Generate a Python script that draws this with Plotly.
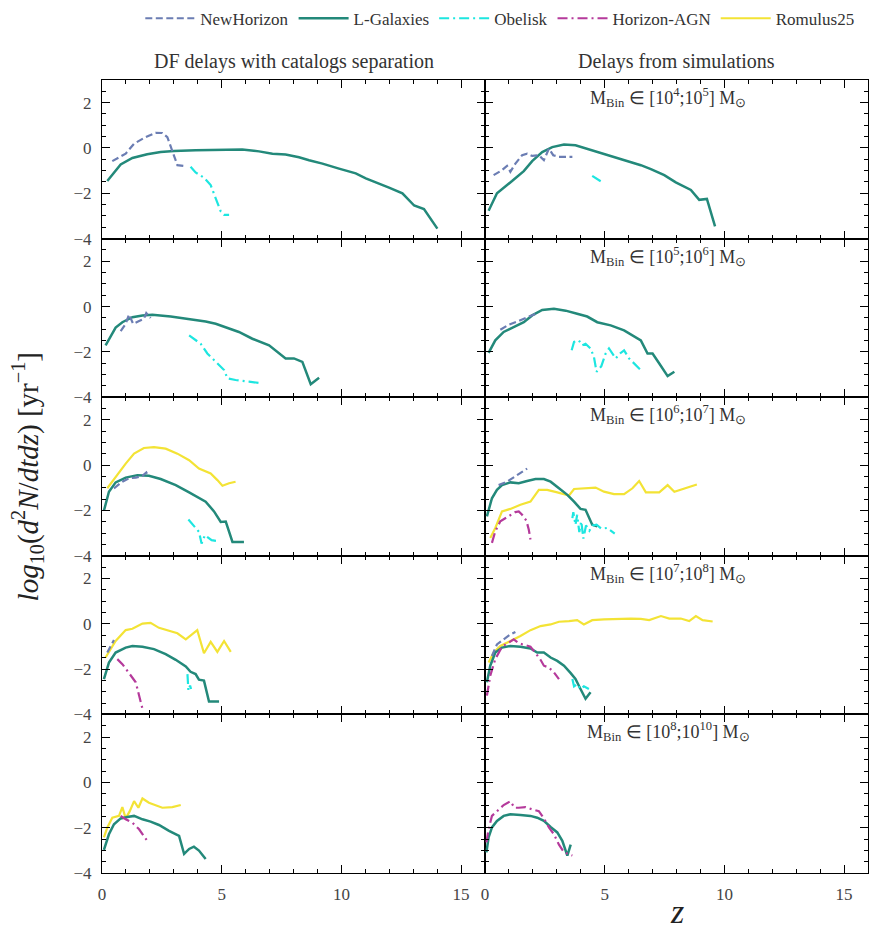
import plotly.graph_objects as go
from plotly.subplots import make_subplots

# ---------------- data (z, log10 rate) ----------------
# Row 1: M_Bin in [1e4;1e5]
r1_df_lgal_z = [0.22, 0.78, 1.27, 1.89, 2.45, 3.01, 3.91, 5.03, 5.86, 6.56, 7.12, 7.67, 8.23, 8.65, 9.21, 9.90, 10.60, 11.02, 11.57, 11.99, 12.55, 13.04, 13.45, 14.01]
r1_df_lgal_v = [-1.46, -0.73, -0.44, -0.28, -0.18, -0.13, -0.10, -0.07, -0.07, -0.15, -0.25, -0.29, -0.41, -0.54, -0.69, -0.91, -1.12, -1.34, -1.56, -1.75, -2.00, -2.54, -2.70, -3.56]
r1_df_nh_z = [0.43, 0.99, 1.34, 1.82, 2.24, 2.52, 2.73, 2.94, 3.15, 3.50]
r1_df_nh_v = [-0.58, -0.25, 0.19, 0.48, 0.67, 0.66, 0.48, -0.10, -0.76, -0.80]
r1_df_ob_z = [3.70, 3.91, 4.26, 4.54, 4.75, 4.96, 5.10, 5.31]
r1_df_ob_v = [-0.83, -1.08, -1.31, -1.64, -2.22, -2.80, -2.95, -2.95]

r1_sim_lgal_z = [0.15, 0.50, 1.13, 1.62, 1.97, 2.39, 2.81, 3.30, 3.78, 4.48, 5.25, 5.95, 6.51, 6.93, 7.49, 7.97, 8.60, 8.95, 9.27, 9.61]
r1_sim_lgal_v = [-2.77, -2.00, -1.46, -1.02, -0.58, -0.18, 0.04, 0.15, 0.12, -0.10, -0.35, -0.58, -0.76, -0.93, -1.20, -1.52, -1.85, -2.29, -2.25, -3.46]
r1_sim_nh_z = [0.36, 0.71, 0.92, 1.06, 1.27, 1.55, 1.76, 1.97, 2.25, 2.46, 2.67, 2.85, 3.09, 3.65]
r1_sim_nh_v = [-1.20, -0.98, -0.79, -1.05, -0.69, -0.32, -0.25, -0.35, -0.32, -0.54, -0.03, -0.32, -0.39, -0.39]
r1_sim_ob_z = [4.48, 4.72, 4.97]
r1_sim_ob_v = [-1.23, -1.39, -1.56]

# Row 2: M_Bin in [1e5;1e6]
r2_df_lgal_z = [0.15, 0.57, 0.85, 1.27, 1.69, 2.10, 2.87, 3.64, 4.33, 4.75, 5.17, 5.72, 6.28, 6.98, 7.67, 8.02, 8.37, 8.72, 9.07]
r2_df_lgal_v = [-1.71, -0.93, -0.69, -0.47, -0.39, -0.36, -0.44, -0.54, -0.66, -0.76, -0.93, -1.12, -1.42, -1.71, -2.29, -2.29, -2.44, -3.43, -3.14]
r2_df_nh_z = [0.78, 0.99, 1.13, 1.30, 1.55, 1.75, 1.85, 2.03]
r2_df_nh_v = [-1.08, -0.76, -0.35, -0.76, -0.64, -0.54, -0.29, -0.50]
r2_df_ob_z = [3.64, 4.12, 4.40, 4.82, 5.10, 5.24, 5.58, 6.14, 6.70]
r2_df_ob_v = [-1.27, -1.64, -2.07, -2.51, -2.80, -3.17, -3.24, -3.31, -3.39]

r2_sim_lgal_z = [0.15, 0.43, 0.78, 1.20, 1.62, 1.97, 2.39, 2.88, 3.37, 3.85, 4.27, 4.69, 5.25, 5.81, 6.16, 6.51, 6.79, 7.00, 7.28, 7.63, 7.91]
r2_sim_lgal_v = [-2.04, -1.49, -1.12, -0.91, -0.69, -0.39, -0.15, -0.10, -0.18, -0.32, -0.44, -0.69, -0.83, -1.05, -1.27, -1.49, -2.07, -2.07, -2.51, -3.07, -2.88]
r2_sim_nh_z = [0.64, 0.99, 1.34, 1.76, 2.18]
r2_sim_nh_v = [-1.02, -0.80, -0.66, -0.47, -0.29]
r2_sim_ob_z = [3.62, 3.72, 3.92, 4.06, 4.20, 4.41, 4.55, 4.66, 4.86, 5.04, 5.18, 5.32, 5.46, 5.64, 5.81, 6.02, 6.23, 6.58]
r2_sim_ob_v = [-1.93, -1.56, -1.49, -1.71, -1.64, -1.85, -2.22, -2.88, -2.63, -2.07, -1.85, -2.07, -2.29, -2.07, -1.93, -2.29, -2.51, -2.88]

# Row 3: M_Bin in [1e6;1e7]
r3_df_rom_z = [0.22, 0.57, 0.99, 1.34, 1.75, 2.17, 2.66, 3.15, 3.64, 4.05, 4.54, 4.82, 5.03, 5.31, 5.58]
r3_df_rom_v = [-1.02, -0.51, 0.07, 0.51, 0.76, 0.80, 0.73, 0.51, 0.22, -0.15, -0.37, -0.66, -0.91, -0.80, -0.73]
r3_df_lgal_z = [0.08, 0.29, 0.57, 0.99, 1.48, 1.96, 2.45, 3.08, 3.64, 4.33, 4.68, 4.96, 5.17, 5.45, 5.93]
r3_df_lgal_v = [-2.01, -1.17, -0.76, -0.55, -0.44, -0.47, -0.61, -0.88, -1.20, -1.61, -2.04, -2.51, -2.49, -3.39, -3.39]
r3_df_nh_z = [0.50, 0.85, 1.13, 1.41, 1.69, 1.85, 1.94]
r3_df_nh_v = [-1.02, -0.73, -0.58, -0.55, -0.47, -0.32, -0.51]
r3_df_ob_z = [3.61, 3.84, 4.05, 4.16, 4.30, 4.58, 4.82]
r3_df_ob_v = [-2.40, -2.68, -2.94, -3.46, -3.09, -3.31, -3.35]

r3_sim_lgal_z = [0.08, 0.29, 0.50, 0.71, 1.06, 1.41, 1.76, 2.11, 2.46, 2.74, 3.09, 3.44, 3.72, 3.99, 4.20, 4.48, 4.69]
r3_sim_lgal_v = [-2.26, -1.46, -1.09, -0.88, -0.76, -0.80, -0.70, -0.61, -0.61, -0.73, -1.02, -1.31, -1.61, -1.93, -1.97, -2.63, -2.70]
r3_sim_nh_z = [0.57, 0.92, 1.34, 1.76]
r3_sim_nh_v = [-0.88, -0.73, -0.44, -0.15]
r3_sim_rom_z = [0.22, 0.43, 0.71, 1.06, 1.48, 1.90, 2.25, 2.60, 3.02, 3.51, 3.72, 4.13, 4.62, 4.97, 5.39, 5.81, 6.16, 6.44, 6.72, 7.28, 7.63, 7.91, 8.39, 8.85]
r3_sim_rom_v = [-3.21, -2.77, -2.04, -1.93, -1.75, -1.61, -1.09, -1.09, -1.20, -1.34, -1.05, -1.02, -0.99, -1.17, -1.28, -1.28, -1.02, -0.70, -1.20, -1.20, -0.88, -1.17, -1.02, -0.85]
r3_sim_hagn_z = [0.29, 0.43, 0.64, 0.85, 1.06, 1.27, 1.41, 1.55, 1.73, 1.83, 1.90]
r3_sim_hagn_v = [-3.43, -2.92, -2.48, -2.34, -2.22, -2.07, -2.04, -2.19, -2.45, -2.85, -3.28]
r3_sim_ob_z = [3.65, 3.69, 3.78, 3.85, 3.94, 4.02, 4.11, 4.22, 4.36, 4.50, 4.66, 4.86, 5.11, 5.42]
r3_sim_ob_v = [-2.34, -2.07, -2.63, -2.19, -2.95, -2.48, -3.24, -2.66, -2.89, -2.66, -2.63, -2.80, -2.77, -3.02]

# Row 4: M_Bin in [1e7;1e8]
r4_df_rom_z = [0.15, 0.57, 0.99, 1.27, 1.69, 2.03, 2.38, 2.80, 3.15, 3.50, 3.98, 4.26, 4.54, 4.82, 5.10, 5.38]
r4_df_rom_v = [-1.49, -0.76, -0.28, -0.22, 0.01, 0.04, -0.18, -0.32, -0.42, -0.69, -0.28, -1.30, -0.80, -1.24, -0.76, -1.24]
r4_df_lgal_z = [0.08, 0.29, 0.57, 0.99, 1.27, 1.69, 2.17, 2.66, 3.08, 3.50, 3.70, 3.91, 4.05, 4.26, 4.47, 4.89]
r4_df_lgal_v = [-2.44, -1.71, -1.27, -1.05, -0.98, -1.01, -1.12, -1.34, -1.59, -1.88, -2.12, -2.22, -2.47, -2.51, -3.43, -3.43]
r4_df_nh_z = [0.22, 0.36, 0.50]
r4_df_nh_v = [-1.27, -0.98, -0.72]
r4_df_hagn_z = [0.64, 0.85, 1.13, 1.41, 1.55, 1.69]
r4_df_hagn_v = [-1.56, -1.78, -2.18, -2.58, -3.17, -3.75]
r4_df_ob_z = [3.57, 3.61, 3.68, 3.72]
r4_df_ob_v = [-2.22, -2.95, -2.73, -2.88]

r4_sim_rom_z = [0.15, 0.36, 0.64, 1.06, 1.48, 1.90, 2.32, 2.74, 3.09, 3.51, 3.85, 4.13, 4.48, 4.97, 5.53, 6.09, 6.51, 6.86, 7.35, 7.70, 8.18, 8.53, 8.81, 9.09, 9.51]
r4_sim_rom_v = [-1.71, -1.27, -0.98, -0.76, -0.54, -0.28, -0.10, -0.03, 0.09, 0.12, 0.16, -0.03, 0.16, 0.19, 0.22, 0.23, 0.22, 0.16, 0.34, 0.23, 0.23, 0.12, 0.34, 0.16, 0.10]
r4_sim_lgal_z = [0.08, 0.22, 0.43, 0.71, 1.06, 1.48, 1.90, 2.18, 2.46, 2.74, 3.02, 3.30, 3.58, 3.78, 3.99, 4.20, 4.41]
r4_sim_lgal_v = [-2.58, -1.85, -1.27, -1.05, -0.98, -1.01, -1.09, -1.27, -1.27, -1.49, -1.64, -1.85, -2.18, -2.44, -2.88, -3.31, -3.02]
r4_sim_nh_z = [0.29, 0.50, 0.78, 1.06, 1.27]
r4_sim_nh_v = [-1.42, -0.91, -0.69, -0.47, -0.36]
r4_sim_hagn_z = [0.08, 0.22, 0.43, 0.71, 0.99, 1.20, 1.41, 1.62, 1.90, 2.18, 2.32, 2.46, 2.67, 2.88, 3.09]
r4_sim_hagn_v = [-3.17, -2.29, -1.56, -1.01, -0.83, -0.69, -0.86, -0.91, -1.01, -1.39, -1.59, -1.85, -1.93, -2.15, -2.44]
r4_sim_ob_z = [3.65, 3.72, 3.85, 3.99, 4.13, 4.34]
r4_sim_ob_v = [-2.44, -2.76, -2.66, -2.88, -2.76, -2.88]

# Row 5: M_Bin in [1e8;1e10]
r5_df_rom_z = [0.08, 0.22, 0.43, 0.71, 0.85, 0.99, 1.16, 1.34, 1.52, 1.69, 1.96, 2.52, 2.94, 3.29]
r5_df_rom_v = [-2.43, -2.00, -1.56, -1.48, -1.09, -1.59, -1.27, -0.83, -1.12, -0.71, -0.90, -1.12, -1.09, -1.00]
r5_df_lgal_z = [0.08, 0.29, 0.50, 0.78, 1.06, 1.34, 1.69, 2.03, 2.38, 2.80, 3.22, 3.43, 3.64, 3.84, 4.05, 4.33]
r5_df_lgal_v = [-2.98, -2.29, -1.85, -1.59, -1.53, -1.48, -1.63, -1.73, -1.88, -2.14, -2.36, -3.16, -2.94, -2.84, -3.01, -3.38]
r5_df_hagn_z = [0.78, 0.99, 1.27, 1.55, 1.89]
r5_df_hagn_v = [-1.48, -1.63, -1.78, -2.07, -2.58]

r5_sim_lgal_z = [0.06, 0.15, 0.29, 0.50, 0.78, 1.06, 1.48, 1.90, 2.18, 2.46, 2.74, 3.02, 3.23, 3.44, 3.58]
r5_sim_lgal_v = [-3.09, -2.43, -1.99, -1.70, -1.48, -1.41, -1.44, -1.48, -1.56, -1.70, -1.97, -2.21, -2.58, -3.23, -2.75]
r5_sim_hagn_z = [0.06, 0.15, 0.29, 0.50, 0.78, 1.06, 1.23, 1.41, 1.69, 1.97, 2.25, 2.46, 2.67, 2.88, 3.09, 3.30, 3.65]
r5_sim_hagn_v = [-2.65, -2.07, -1.48, -1.27, -1.00, -0.83, -1.12, -1.12, -1.09, -1.19, -1.27, -1.59, -1.99, -2.29, -2.75, -3.09, -3.23]

series_names = ["NewHorizon", "L-Galaxies", "Obelisk", "Horizon-AGN", "Romulus25"]
col_titles = ["DF delays with catalogs separation", "Delays from simulations"]
mass_bins = [("4", "5"), ("5", "6"), ("6", "7"), ("7", "8"), ("8", "10")]
x_ticks = [0, 5, 10, 15]
y_ticks = [2, 0, -2, -4]

# ---------------- styling ----------------
styles = {
    "NewHorizon": dict(color="#6b7db3", width=2.2, dash="7px,3.5px"),
    "L-Galaxies": dict(color="#23897a", width=2.5, dash="solid"),
    "Obelisk": dict(color="#1de6e0", width=2.2, dash="10px,4px,2px,4px"),
    "Horizon-AGN": dict(color="#b53a9b", width=2.2, dash="10px,4px,2px,4px"),
    "Romulus25": dict(color="#f3e335", width=2.2, dash="solid"),
}

panels = [
    (1, 1, [("L-Galaxies", r1_df_lgal_z, r1_df_lgal_v), ("NewHorizon", r1_df_nh_z, r1_df_nh_v), ("Obelisk", r1_df_ob_z, r1_df_ob_v)]),
    (1, 2, [("L-Galaxies", r1_sim_lgal_z, r1_sim_lgal_v), ("NewHorizon", r1_sim_nh_z, r1_sim_nh_v), ("Obelisk", r1_sim_ob_z, r1_sim_ob_v)]),
    (2, 1, [("L-Galaxies", r2_df_lgal_z, r2_df_lgal_v), ("NewHorizon", r2_df_nh_z, r2_df_nh_v), ("Obelisk", r2_df_ob_z, r2_df_ob_v)]),
    (2, 2, [("L-Galaxies", r2_sim_lgal_z, r2_sim_lgal_v), ("NewHorizon", r2_sim_nh_z, r2_sim_nh_v), ("Obelisk", r2_sim_ob_z, r2_sim_ob_v)]),
    (3, 1, [("Romulus25", r3_df_rom_z, r3_df_rom_v), ("L-Galaxies", r3_df_lgal_z, r3_df_lgal_v), ("NewHorizon", r3_df_nh_z, r3_df_nh_v), ("Obelisk", r3_df_ob_z, r3_df_ob_v)]),
    (3, 2, [("Romulus25", r3_sim_rom_z, r3_sim_rom_v), ("L-Galaxies", r3_sim_lgal_z, r3_sim_lgal_v), ("NewHorizon", r3_sim_nh_z, r3_sim_nh_v), ("Horizon-AGN", r3_sim_hagn_z, r3_sim_hagn_v), ("Obelisk", r3_sim_ob_z, r3_sim_ob_v)]),
    (4, 1, [("Romulus25", r4_df_rom_z, r4_df_rom_v), ("L-Galaxies", r4_df_lgal_z, r4_df_lgal_v), ("NewHorizon", r4_df_nh_z, r4_df_nh_v), ("Horizon-AGN", r4_df_hagn_z, r4_df_hagn_v), ("Obelisk", r4_df_ob_z, r4_df_ob_v)]),
    (4, 2, [("Romulus25", r4_sim_rom_z, r4_sim_rom_v), ("L-Galaxies", r4_sim_lgal_z, r4_sim_lgal_v), ("NewHorizon", r4_sim_nh_z, r4_sim_nh_v), ("Horizon-AGN", r4_sim_hagn_z, r4_sim_hagn_v), ("Obelisk", r4_sim_ob_z, r4_sim_ob_v)]),
    (5, 1, [("Romulus25", r5_df_rom_z, r5_df_rom_v), ("L-Galaxies", r5_df_lgal_z, r5_df_lgal_v), ("Horizon-AGN", r5_df_hagn_z, r5_df_hagn_v)]),
    (5, 2, [("L-Galaxies", r5_sim_lgal_z, r5_sim_lgal_v), ("Horizon-AGN", r5_sim_hagn_z, r5_sim_hagn_v)]),
]

FONT = "Liberation Serif"

fig = make_subplots(rows=5, cols=2, shared_xaxes=True, shared_yaxes=True,
                    horizontal_spacing=0, vertical_spacing=0)

# legend entries (fixed order)
for name in series_names:
    st = styles[name]
    fig.add_trace(go.Scatter(x=[None], y=[None], mode="lines", name=name,
                             line=dict(color=st["color"], width=st["width"], dash=st["dash"]),
                             legendgroup=name, showlegend=True), row=1, col=1)

for r, c, traces in panels:
    for name, zs, vs in traces:
        st = styles[name]
        fig.add_trace(go.Scatter(x=zs, y=vs, mode="lines", name=name, legendgroup=name,
                                 showlegend=False,
                                 line=dict(color=st["color"], width=st["width"], dash=st["dash"])),
                      row=r, col=c)

axis_common = dict(showline=True, linecolor="black", linewidth=1.1, mirror="allticks",
                   ticks="inside", ticklen=8, tickwidth=1.2, tickcolor="black",
                   showgrid=False, zeroline=False, ticklabelstandoff=6,
                   tickfont=dict(family=FONT, size=17, color="#444444"))
fig.update_xaxes(range=[0, 16], tickvals=x_ticks,
                 minor=dict(dtick=1, ticks="inside", ticklen=4, tickcolor="black", tickwidth=1.0),
                 **axis_common)
fig.update_yaxes(range=[-4, 3], tickvals=y_ticks, ticktext=["2", "0", "\u22122", "\u22124"],
                 minor=dict(tickvals=[-3.5, -3, -2.5, -1.5, -1, -0.5, 0.5, 1, 1.5, 2.5],
                            ticks="inside", ticklen=4, tickcolor="black", tickwidth=1.0),
                 **axis_common)

annotations = []
for i, (t, xc) in enumerate(zip(col_titles, [0.25, 0.75])):
    annotations.append(dict(text=t, x=xc, y=1.023, xref="paper", yref="paper",
                            showarrow=False, font=dict(family=FONT, size=20, color="#333333"),
                            xanchor="center", yanchor="middle"))
for i, (lo, hi) in enumerate(mass_bins):
    ytop = 1 - i * 0.2
    annotations.append(dict(
        text=f"M<sub>Bin</sub> \u2208 [10<sup>{lo}</sup>;10<sup>{hi}</sup>] M<sub>\u2299</sub>",
        x=0.739, y=ytop - 0.022, xref="paper", yref="paper", showarrow=False,
        font=dict(family=FONT, size=18, color="#333333"), xanchor="center", yanchor="middle"))
annotations.append(dict(
    text="<i>log</i><sub>10</sub>(<i>d</i><sup>2</sup><i>N</i>/<i>dtdz</i>) [yr<sup>\u22121</sup>]",
    x=-0.098, y=0.5, xref="paper", yref="paper", showarrow=False, textangle=-90,
    font=dict(family=FONT, size=29, color="#222222"), xanchor="center", yanchor="middle"))
annotations.append(dict(text="<i>z</i>", x=0.751, y=-0.048, xref="paper", yref="paper",
                        showarrow=False, font=dict(family=FONT, size=34, color="#222222"),
                        xanchor="center", yanchor="middle"))

fig.update_layout(
    width=869, height=931,
    margin=dict(l=102, r=1, t=78, b=58),
    paper_bgcolor="white", plot_bgcolor="white",
    annotations=annotations,
    showlegend=True,
    legend=dict(orientation="h", x=0.05, y=1.1, xanchor="left", yanchor="top",
                font=dict(family=FONT, size=17, color="#333333"),
                itemwidth=50, bgcolor="rgba(0,0,0,0)", tracegroupgap=0),
)

fig.write_html("out.html")
